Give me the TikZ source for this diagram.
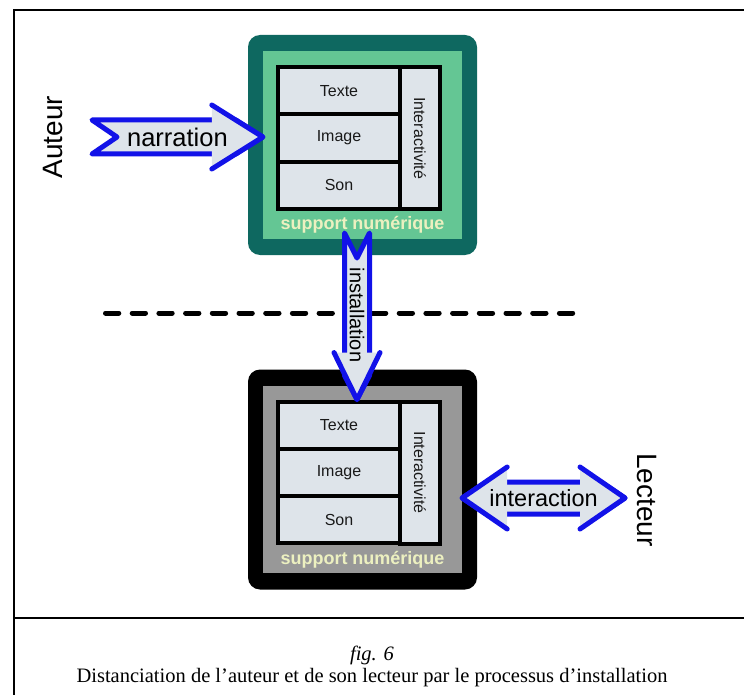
\documentclass[tikz,border=0pt]{standalone}
\usepackage{fontspec}
\setmainfont{Liberation Sans}
\newfontfamily\capfont{Liberation Serif}
\usetikzlibrary{calc,positioning}
\definecolor{tealdark}{RGB}{14,104,96}
\definecolor{greenlight}{RGB}{100,198,148}
\definecolor{graymid}{RGB}{152,152,152}
\definecolor{cellgray}{RGB}{222,228,234}
\definecolor{arrowblue}{RGB}{18,18,232}
\definecolor{paleyellow}{RGB}{236,240,192}

\begin{document}
\begin{tikzpicture}[x=1pt, y=-1pt,% one unit = one pixel, y downwards
outer/.style = {rounded corners=12pt, minimum width=229pt, minimum height=220pt,
                inner sep=0pt, outer sep=0pt},
inner/.style = {minimum width=199pt, minimum height=187pt, inner sep=0pt},
 cell/.style = {draw=black, line width=4pt, fill=cellgray, inner sep=0pt,
                text=black!90, font=\fontsize{16}{19}\selectfont},
  sup/.style = {text=paleyellow, font=\bfseries\fontsize{18}{21}\selectfont},
block/.style = {draw=arrowblue, fill=cellgray, line width=5pt,
                line join=round, line cap=round},
 word/.style = {font=\fontsize{24}{28}\selectfont, inner sep=0pt},
                    ]
    \useasboundingbox (0,0) rectangle (744,695);
    % frame and caption
    \draw[line width=2pt] (14,695) -- (14,10) -- (744,10);
    \draw[line width=2pt] (14,618) -- (744,618);
    \node[font=\capfont\itshape\fontsize{20.5}{23}\selectfont] (fig) at (372,655) {fig. 6};
    \node[font=\capfont\fontsize{20.5}{23}\selectfont] (legende) at (372,678)
        {Distanciation de l’auteur et de son lecteur par le processus d’installation};

    % separation line
    \draw[line width=5pt, line cap=round, dash pattern=on 13.3pt off 13.4pt]
        (105.5,313) -- (576,313);

    % the two digital supports
    \foreach \b/\y/\dk/\lt in {top/145/tealdark/greenlight, bot/479.5/black/graymid}
    {
        \node[outer, fill=\dk] (\b) at (362.5,\y) {};
        \node[inner, fill=\lt] (\b-in) at (\b) {};
        \node[cell, minimum width=122pt, minimum height=47.3pt] (\b-texte) at ($(\b)+(-23.5,-54.3)$) {Texte};
        \node[cell, minimum width=122pt, minimum height=47.3pt] (\b-image) at ($(\b)+(-23.5,-7)$) {Image};
        \node[cell, minimum width=122pt, minimum height=47.3pt] (\b-son) at ($(\b)+(-23.5,40.3)$) {Son};
        \node[cell, rotate=-90, minimum width=142pt, minimum height=40pt] (\b-inter) at ($(\b)+(57.5,-7)$) {Interactivité};
        \node[sup] (\b-sup) at ($(\b)+(0,80)$) {support numérique};
    }

    % narration
    \coordinate (narr-tail) at (92,137);
    \coordinate (narr-tip) at (top-in.west |- narr-tail);
    \draw[block] ($(narr-tail)+(0,-17)$) -- ($(narr-tip)+(-27,-17)$) -- (narr-tip)
        -- ($(narr-tip)+(-27,17)$) -- ($(narr-tail)+(0,17)$) -- ($(narr-tail)+(25,0)$) -- cycle;
    \draw[block] ($(narr-tip)+(-51,-32)$) -- (narr-tip) -- ($(narr-tip)+(-51,32)$);
    \node[word, font=\fontsize{25.5}{30}\selectfont] (narr) at ($(narr-tail)!0.5!(narr-tip)$) {narration};
    \node[word, font=\fontsize{28}{32}\selectfont, rotate=90] (auteur) at (53,137) {Auteur};

    % installation
    \coordinate (inst-tail) at (357,233);
    \coordinate (inst-tip) at (bot-texte.north -| inst-tail);
    \draw[block] ($(inst-tail)+(-12.5,0)$) -- ($(inst-tip)+(-12.5,-24)$) -- (inst-tip)
        -- ($(inst-tip)+(12.5,-24)$) -- ($(inst-tail)+(12.5,0)$) -- ($(inst-tail)+(0,25)$) -- cycle;
    \draw[block] ($(inst-tip)+(-23,-47)$) -- (inst-tip) -- ($(inst-tip)+(23,-47)$);
    \node[word, font=\fontsize{20}{24}\selectfont, rotate=-90] (inst) at (357,315) {installation};

    % interaction
    \coordinate (lect-tip) at (625,498);
    \coordinate (bot-tip) at (bot-in.east |- lect-tip);
    \draw[block] (bot-tip) -- ($(bot-tip)+(24,-16)$) -- ($(lect-tip)+(-24,-16)$) -- (lect-tip)
        -- ($(lect-tip)+(-24,16)$) -- ($(bot-tip)+(24,16)$) -- cycle;
    \draw[block] ($(bot-tip)+(45,-31)$) -- (bot-tip) -- ($(bot-tip)+(45,31)$);
    \draw[block] ($(lect-tip)+(-45,-31)$) -- (lect-tip) -- ($(lect-tip)+(-45,31)$);
    \node[word, font=\fontsize{23.5}{28}\selectfont] (inter) at ($(bot-tip)!0.5!(lect-tip)$) {interaction};
    \node[word, font=\fontsize{28}{32}\selectfont, rotate=-90] (lecteur) at (647,500) {Lecteur};
\end{tikzpicture}
\end{document}
